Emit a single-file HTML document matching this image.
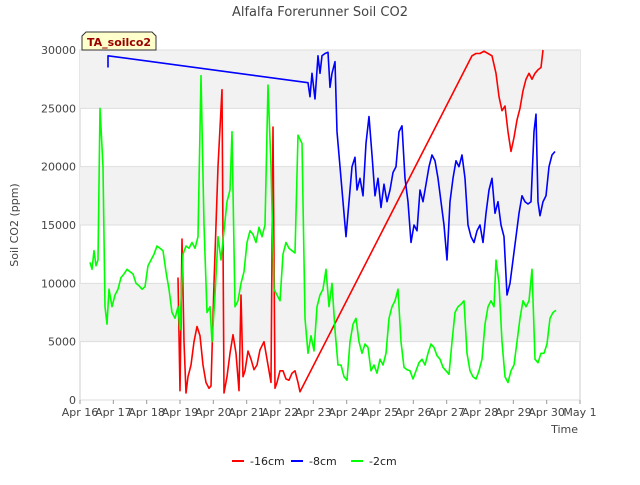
<!DOCTYPE html>
<html><head><meta charset="utf-8">
<style>
body{margin:0;background:#fff;font-family:"Liberation Sans","DejaVu Sans",sans-serif;}
svg text{font-family:"DejaVu Sans","Liberation Sans",sans-serif;}
</style></head>
<body>
<svg id="chart" width="640" height="480" xmlns="http://www.w3.org/2000/svg"></svg>
<script>
const xTickLabels=["Apr 16","Apr 17","Apr 18","Apr 19","Apr 20","Apr 21","Apr 22","Apr 23","Apr 24","Apr 25","Apr 26","Apr 27","Apr 28","Apr 29","Apr 30","May 1"];
const yTicks=[0,5000,10000,15000,20000,25000,30000];
const seriesNames=["-16cm","-8cm","-2cm"];
const seriesColors=["#ff0000","#0000ff","#00ff00"];
// days since Apr 16, CO2 ppm
const red=[[2.94,10500],[3.0,800],[3.06,13800],[3.12,5000],[3.18,600],[3.24,2000],[3.33,3000],[3.42,5000],[3.51,6300],[3.6,5500],[3.69,3000],[3.78,1500],[3.87,1000],[3.93,1200],[4.02,10000],[4.14,20000],[4.26,26600],[4.32,600],[4.41,2000],[4.5,4000],[4.59,5600],[4.68,4000],[4.77,800],[4.83,9000],[4.89,2000],[4.95,2500],[5.04,4200],[5.13,3500],[5.22,2600],[5.31,3000],[5.4,4300],[5.52,5000],[5.64,3000],[5.73,1500],[5.79,23400],[5.85,1000],[5.91,1500],[6.0,2500],[6.09,2500],[6.18,1800],[6.27,1700],[6.36,2300],[6.45,2500],[6.54,1500],[6.6,700],[11.76,29500],[11.88,29700],[12.0,29700],[12.12,29900],[12.24,29700],[12.36,29500],[12.48,28000],[12.57,26000],[12.66,24800],[12.75,25200],[12.84,23000],[12.93,21300],[13.02,22500],[13.11,24000],[13.2,25000],[13.29,26500],[13.38,27500],[13.47,28000],[13.56,27500],[13.65,28000],[13.74,28300],[13.83,28500],[13.89,30000]];
const blue=[[0.84,28500],[0.84,29500],[6.84,27200],[6.9,26000],[6.96,28000],[7.05,25800],[7.14,29500],[7.2,28000],[7.26,29500],[7.35,29700],[7.44,29800],[7.5,26800],[7.56,28000],[7.65,29000],[7.71,23000],[7.8,20000],[7.89,17000],[7.98,14000],[8.07,17000],[8.16,20000],[8.25,20800],[8.31,18000],[8.4,19000],[8.49,17500],[8.58,22000],[8.67,24300],[8.76,21000],[8.85,17500],[8.94,19000],[9.03,16500],[9.12,18500],[9.21,17000],[9.3,18000],[9.39,19500],[9.48,20000],[9.57,23000],[9.66,23500],[9.75,19000],[9.84,17000],[9.93,13500],[10.02,15000],[10.11,14500],[10.2,18000],[10.29,17000],[10.38,18500],[10.47,20000],[10.56,21000],[10.65,20500],[10.74,19000],[10.83,17000],[10.92,15000],[11.01,12000],[11.1,17000],[11.19,19000],[11.28,20500],[11.37,20000],[11.46,21000],[11.55,19000],[11.64,15000],[11.73,14000],[11.82,13500],[11.91,14500],[12.0,15000],[12.09,13500],[12.18,16000],[12.27,18000],[12.36,19000],[12.45,16000],[12.54,17000],[12.63,15000],[12.72,14000],[12.81,9000],[12.9,10000],[12.99,12000],[13.08,14000],[13.17,16000],[13.26,17500],[13.35,17000],[13.44,16800],[13.53,17000],[13.62,23000],[13.68,24500],[13.74,17000],[13.8,15800],[13.89,17000],[13.98,17500],[14.07,20000],[14.16,21000],[14.25,21300]];
const green=[[0.3,11800],[0.36,11200],[0.42,12800],[0.48,11500],[0.54,12000],[0.6,25000],[0.69,20000],[0.75,8000],[0.81,6500],[0.87,9500],[0.96,8000],[1.05,9000],[1.14,9500],[1.23,10500],[1.32,10800],[1.41,11200],[1.5,11000],[1.59,10800],[1.68,10000],[1.77,9800],[1.86,9500],[1.95,9700],[2.04,11500],[2.13,12000],[2.22,12500],[2.31,13200],[2.4,13000],[2.49,12800],[2.58,11000],[2.67,9500],[2.76,7500],[2.85,7000],[2.94,8000],[3.0,6000],[3.09,12500],[3.18,13200],[3.27,13000],[3.36,13500],[3.45,13000],[3.54,14000],[3.63,27800],[3.72,15000],[3.81,7500],[3.9,8000],[3.96,5000],[4.05,9000],[4.14,14000],[4.23,12000],[4.32,14500],[4.41,17000],[4.5,18000],[4.56,23000],[4.65,8000],[4.74,8500],[4.83,10000],[4.92,11000],[5.01,13500],[5.1,14500],[5.19,14200],[5.28,13500],[5.37,14800],[5.46,14000],[5.55,15000],[5.64,27000],[5.73,20000],[5.82,9500],[5.91,9000],[6.0,8500],[6.09,12500],[6.18,13500],[6.27,13000],[6.36,12800],[6.45,12600],[6.54,22700],[6.66,22000],[6.75,7000],[6.84,4000],[6.93,5500],[7.02,4200],[7.11,8000],[7.2,9000],[7.29,9500],[7.38,11200],[7.47,8000],[7.56,10000],[7.65,6000],[7.74,3000],[7.83,3000],[7.92,2000],[8.01,1700],[8.1,5000],[8.19,6500],[8.28,7000],[8.37,5000],[8.46,4000],[8.55,4800],[8.64,4500],[8.73,2500],[8.82,3000],[8.91,2300],[9.0,3500],[9.09,3000],[9.18,4000],[9.27,7000],[9.36,8000],[9.45,8500],[9.54,9500],[9.63,5000],[9.72,2800],[9.81,2600],[9.9,2500],[9.99,1800],[10.08,2500],[10.17,3200],[10.26,3500],[10.35,3000],[10.44,4000],[10.53,4800],[10.62,4500],[10.71,3800],[10.8,3500],[10.89,2800],[10.98,2500],[11.07,2200],[11.16,5000],[11.25,7500],[11.34,8000],[11.43,8200],[11.52,8500],[11.61,4000],[11.7,2500],[11.79,2000],[11.88,1800],[11.97,2500],[12.06,3500],[12.15,6500],[12.24,8000],[12.33,8500],[12.42,8000],[12.48,12000],[12.57,10000],[12.66,5000],[12.75,2000],[12.84,1500],[12.93,2500],[13.02,3000],[13.11,5000],[13.2,7000],[13.29,8500],[13.38,8000],[13.47,8500],[13.56,11200],[13.65,3500],[13.74,3200],[13.83,4000],[13.92,4000],[14.01,4800],[14.1,7000],[14.19,7500],[14.28,7700]];

const NS="http://www.w3.org/2000/svg";
const svg=document.getElementById('chart');
const L=80,R=580,T=50,B=400;
const xs=d=>L+(R-L)*d/15;
const ys=v=>B-(B-T)*v/30000;
function mk(tag,attrs,parent){const e=document.createElementNS(NS,tag);for(const k in attrs)e.setAttribute(k,attrs[k]);(parent||svg).appendChild(e);return e;}

const title=mk('text',{x:320,y:16,'text-anchor':'middle','font-size':13,fill:'#444'});


title.textContent='Alfalfa Forerunner Soil CO2';

const plot=mk('rect',{x:L,y:T,width:R-L,height:B-T,fill:'#fff',stroke:'#ccc'});


for(let i=0;i<yTicks.length-1;i++){
  if(i%2===1){
    const b=mk('rect',{x:L,y:ys(yTicks[i+1]),width:R-L,height:ys(yTicks[i])-ys(yTicks[i+1]),fill:'#f2f2f2'});
    
    
  }
}
yTicks.forEach(v=>{
  const g=mk('line',{x1:L,x2:R,y1:ys(v),y2:ys(v),stroke:'#ddd','stroke-width':1});
  
  
  const t=mk('text',{x:L-4,y:ys(v)+4,'text-anchor':'end','font-size':11,fill:'#444'});
  
  
  t.textContent=v;
});
xTickLabels.forEach((lab,i)=>{
  const tk=mk('line',{x1:xs(i),x2:xs(i),y1:B,y2:B+4,stroke:'#999'});
  
  
  const t=mk('text',{x:xs(i),y:B+16,'text-anchor':'middle','font-size':11,fill:'#444'});
  
  
  t.textContent=lab;
});
const xt=mk('text',{x:578,y:433,'text-anchor':'end','font-size':11,fill:'#444'});


xt.textContent='Time';
const yt=mk('text',{x:18,y:225,'text-anchor':'middle','font-size':11,fill:'#444',transform:'rotate(-90 18 225)'});


yt.textContent='Soil CO2 (ppm)';

[red,blue,green].forEach((s,i)=>{
  const p=mk('polyline',{points:s.map(d=>xs(d[0]).toFixed(1)+','+ys(d[1]).toFixed(1)).join(' '),fill:'none',stroke:seriesColors[i],'stroke-width':1.6,'stroke-linejoin':'round'});
  
  
});

const lb=mk('g',{});


mk('path',{d:'M82,50 L82,36 L86,32 L152,32 L156,36 L156,50 Z',fill:'#ffffcc',stroke:'#333'},lb);
const lt=mk('text',{x:87,y:46,'font-size':11,'font-weight':'bold',fill:'#990000'},lb);
lt.textContent='TA_soilco2';

const lx=[232,291,351];
seriesNames.forEach((n,i)=>{
  const g=mk('g',{});
  
  
  mk('line',{x1:lx[i],x2:lx[i]+12,y1:461,y2:461,stroke:seriesColors[i],'stroke-width':2},g);
  const t=mk('text',{x:lx[i]+18,y:465,'font-size':11,fill:'#222'},g);
  t.textContent=n;
});
</script>
</body></html>
